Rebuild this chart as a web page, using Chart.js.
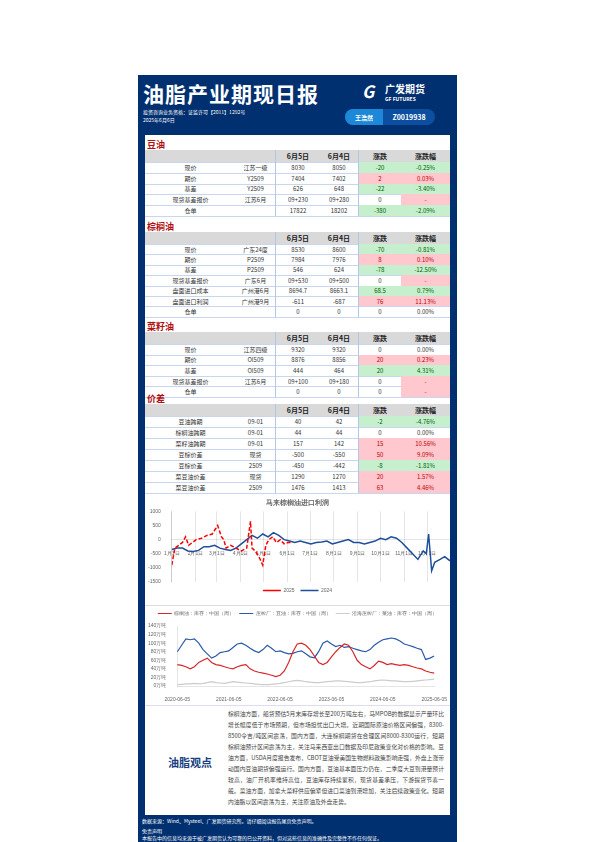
<!DOCTYPE html>
<html><head><meta charset="utf-8">
<script src="https://cdn.jsdelivr.net/npm/chart.js@4"></script>
<style>
body{margin:0;background:#fff;font-family:"Noto Sans CJK SC","Noto Sans",sans-serif;}
#page{position:absolute;left:138px;top:75px;width:319px;height:767px;background:#003070;overflow:hidden}
#white{position:absolute;left:7px;top:60px;width:305px;height:680px;background:#fff}
.abs{position:absolute}
.sec-title{position:absolute;left:2px;font-size:9px;color:#b01010;font-weight:bold}
.row{position:absolute;left:0;width:305px;font-size:6px;color:#333;display:flex;border-bottom:1px solid #c9d6ee}
.row div{display:flex;align-items:center;justify-content:center;box-sizing:border-box}
.hdr{background:#d9d9d9;font-weight:bold;font-size:7px;color:#222}
.g{background:#c6efce;color:#006100}.r{background:#ffc7ce;color:#c00000}
.c0{width:91px}.c1{width:39px}.c2{width:45px;border-left:1px solid #b4c6e7}.c3{width:38px}.c4{width:43px;border-left:1px solid #b4c6e7}.c5{width:49px}
</style></head><body>
<div id="page">
 <div class="abs" style="left:5px;top:3px;font-size:21px;color:#fff;font-weight:bold;font-family:'Noto Sans CJK SC';letter-spacing:1px">油脂产业期现日报</div>
 <div class="abs" style="left:224px;top:6px;color:#fff;font-size:17px;font-weight:bold;font-style:italic;line-height:20px">G</div>
 <div class="abs" style="left:247px;top:8px;color:#fff;font-size:10px;font-weight:bold;line-height:12px">广发期货</div>
 <div class="abs" style="left:247px;top:21px;color:#fff;font-size:5px;font-weight:bold;line-height:6px">GF FUTURES</div>
 <div class="abs" style="left:5px;top:33px;color:#fff;font-size:5px">投资咨询业务资格：证监许可【2011】1292号</div>
 <div class="abs" style="left:5px;top:41px;color:#fff;font-size:5px">2025年6月6日</div>
 <div class="abs" style="left:207px;top:34px;width:90px;height:16px;border-radius:8px;background:#0c4fa0;overflow:hidden;display:flex;font-size:6px;color:#fff;font-weight:bold">
  <div style="width:38px;background:#1e88d8;display:flex;align-items:center;justify-content:center">王浩然</div>
  <div style="flex:1;display:flex;align-items:center;justify-content:center;font-size:7px">Z0019938</div></div>
 <div id="white"></div>
</div>
<div class="abs" style="left:145px;top:497px;width:305px;height:106px"><canvas id="c1"></canvas></div>
<div class="abs" style="left:145px;top:605px;width:305px;height:100px;border-top:1px solid #ddd"><canvas id="c2"></canvas></div>
<script>
// ---- table data ----
const headers=["","","6月5日","6月4日","涨跌","涨跌幅"];
const soyRows=[["现价","江苏一级","8030","8050","-20","-0.25%"],["期价","Y2509","7404","7402","2","0.03%"],["基差","Y2509","626","648","-22","-3.40%"],["现货基差报价","江苏6月","09+230","09+280","0","-"],["仓单","","17822","18202","-380","-2.09%"]];
const palmRows=[["现价","广东24度","8530","8600","-70","-0.81%"],["期价","P2509","7984","7976","8","0.10%"],["基差","P2509","546","624","-78","-12.50%"],["现货基差报价","广东6月","09+530","09+500","0","-"],["盘面进口成本","广州港6月","8694.7","8663.1","68.5","0.79%"],["盘面进口利润","广州港9月","-611","-687","76","11.13%"],["仓单","","0","0","0","0.00%"]];
const rapeRows=[["现价","江苏四级","9320","9320","0","0.00%"],["期价","OI509","8876","8856","20","0.23%"],["基差","OI509","444","464","20","4.31%"],["现货基差报价","江苏6月","09+100","09+180","0","-"],["仓单","","0","0","0","-"]];
const spreadRows=[["豆油跨期","09-01","40","42","-2","-4.76%"],["棕榈油跨期","09-01","44","44","0","0.00%"],["菜籽油跨期","09-01","157","142","15","10.56%"],["豆棕价差","现货","-500","-550","50","9.09%"],["豆棕价差","2509","-450","-442","-8","-1.81%"],["菜豆油价差","现货","1290","1270","20","1.57%"],["菜豆油价差","2509","1476","1413","63","4.46%"]];
const cellColors={soy:["g","r","g","","g"],palm:["g","r","g","","g","r",""],rape:["","r","g","",""],spread:["g","","r","r","g","r","r"]};
const emptyPink={soy:[3],palm:[3],rape:[3,4],spread:[]};
function section(title,rows,key,top,rh){
  const w=document.getElementById('white');let y=top-135;
  const t=document.createElement('div');t.className='sec-title';t.style.top=(y)+'px';t.textContent=title;w.appendChild(t);y+=12;
  const mk=(cells,cls,h,ci)=>{const r=document.createElement('div');r.className='row '+cls;r.style.top=y+'px';r.style.height=h+'px';
    cells.forEach((c,i)=>{const d=document.createElement('div');d.className='c'+i;d.textContent=c;
      if(ci!==undefined&&i>=4){const col=cellColors[key][ci];if(col)d.classList.add(col);
        if(i===5&&emptyPink[key].includes(ci))d.classList.add('r');}
      r.appendChild(d)});w.appendChild(r);y+=h;};
  mk(headers,'hdr',12);rows.forEach((r,i)=>mk(r,'',rh,i));
}
section("豆油",soyRows,"soy",138,10.8);
section("棕榈油",palmRows,"palm",220,10.4);
section("菜籽油",rapeRows,"rape",320,10.6);
section("价差",spreadRows,"spread",392,11);

// ---- chart 1: 马来棕榈油进口利润 ----
const monthTicks=["1月1日","2月1日","3月1日","4月1日","5月1日","6月1日","7月1日","8月1日","9月1日","10月1日","11月1日","12月1日"];
const monthDays=[1,32,60,91,121,152,182,213,244,274,305,335];
const days2024=[1,8,15,22,29,36,43,50,57,64,71,78,85,92,99,106,113,120,127,134,141,148,155,162,169,176,183,190,197,204,211,218,225,232,239,246,253,260,267,274,281,288,295,302,309,316,323,330,334,337,341,345,352,358,365];
const vals2024=[-350,-300,-300,-400,-420,-380,-250,-250,-200,-300,-350,-380,-300,-150,0,150,50,200,100,250,150,0,-50,-100,-50,-100,-150,-100,-80,-50,-150,-100,-50,0,-100,-100,-150,-100,-50,50,0,100,50,-100,-300,-500,-700,-400,-500,200,-1100,-800,-700,-600,-750];
const days2025=[1,5,10,15,19,23,28,33,40,47,54,61,66,69,72,78,85,92,99,104,106,110,115,120,124,128,133,138,143,148,153,157];
const vals2025=[-900,-300,-200,-100,100,-200,-100,0,50,150,200,500,100,0,-300,-200,-300,-400,-300,650,-300,-400,-600,-900,-200,0,100,-100,0,-150,-100,-100];
const d24=days2024.map((d,i)=>({x:d,y:vals2024[i]}));
const d25=days2025.map((d,i)=>({x:d,y:vals2025[i]}));
new Chart(document.getElementById('c1'),{type:'line',data:{datasets:[
 {label:'2025',data:d25,borderColor:'#ff0000',borderDash:[4,2],borderWidth:1.5,pointRadius:0,tension:0},
 {label:'2024',data:d24,borderColor:'#1f4e9a',borderWidth:1.5,pointRadius:0,tension:0}]},
 options:{animation:false,responsive:true,maintainAspectRatio:false,
 plugins:{title:{display:true,text:'马来棕榈油进口利润',color:'#666',font:{size:7},padding:{top:2,bottom:4}},
  legend:{position:'bottom',labels:{boxWidth:18,boxHeight:0,font:{size:5},color:'#666',padding:6}}},
 scales:{x:{type:'linear',min:1,max:365,position:{y:0},afterBuildTicks:a=>{a.ticks=monthDays.map(v=>({value:v}))},
   ticks:{callback:(v)=>monthTicks[monthDays.indexOf(v)],font:{size:5},color:'#666',maxRotation:0,autoSkip:false},grid:{color:'#e5e5e5'}},
  y:{min:-1500,max:1000,ticks:{stepSize:500,callback:v=>String(v),font:{size:5},color:'#666'},grid:{display:false}}}}});

// ---- chart 2: 库存 ----
const months2=[];for(let y=2020;y<=2025;y++)for(let m=1;m<=12;m++){if((y===2020&&m<6)||(y===2025&&m>6))continue;months2.push(y+'-'+String(m).padStart(2,'0')+'-05');}
const palmStock=[50,48,45,40,45,55,60,65,55,50,48,45,42,40,45,48,50,40,35,32,30,28,25,22,25,35,55,80,98,100,95,85,70,55,50,55,68,80,90,98,95,80,60,50,45,40,48,58,55,50,52,50,48,50,48,45,42,40,35,32,30];
const soyStock=[80,95,110,108,110,100,85,75,65,70,78,80,82,90,98,100,95,88,82,78,85,95,88,80,82,78,75,76,80,82,75,68,66,80,100,105,98,92,95,90,92,88,85,82,80,85,95,102,108,110,112,110,105,98,95,92,88,85,62,65,70];
const rapeStock=[3,4,5,5,6,5,6,8,10,8,7,6,8,10,9,8,7,6,5,4,3,3,4,5,6,8,10,12,13,12,10,9,8,8,9,10,11,12,12,11,10,9,8,8,9,10,12,13,14,13,12,12,11,10,10,11,12,13,14,15,16];
new Chart(document.getElementById('c2'),{type:'line',data:{labels:months2,datasets:[
 {label:'棕榈油：库存：中国（周）',data:palmStock,borderColor:'#d62728',borderWidth:1.2,pointRadius:0},
 {label:'压榨厂：豆油：库存：中国（周）',data:soyStock,borderColor:'#2a5aa8',borderWidth:1.2,pointRadius:0},
 {label:'沿海压榨厂：菜油：库存：中国（周）',data:rapeStock,borderColor:'#cccccc',borderWidth:1.2,pointRadius:0}]},
 options:{animation:false,responsive:true,maintainAspectRatio:false,
 plugins:{legend:{position:'top',labels:{boxWidth:14,boxHeight:0,font:{size:5},color:'#666',padding:5}}},
 scales:{x:{ticks:{callback:function(v,i){return i%12===0?this.getLabelForValue(v):null},autoSkip:false,maxRotation:0,font:{size:5},color:'#666'},grid:{display:false}},
  y:{min:0,max:140,ticks:{stepSize:20,autoSkip:false,callback:v=>v+'万吨',font:{size:5},color:'#666'},grid:{display:false}}}}});

// ---- opinion ----
const opinion="棕榈油方面，船货预估5月末库存增长至200万吨左右，马MPOB的数据显示产量环比增长幅度低于市场预期，但市场担忧出口大增。近期国际原油价格区间偏强，8300-8500令吉/吨区间震荡，国内方面，大连棕榈期货在合理区间8000-8300运行，短期棕榈油预计区间震荡为主，关注马来西亚出口数据及印尼政策变化对价格的影响。豆油方面，USDA月度报告发布，CBOT豆油受美国生物燃料政策影响走强，外盘上涨带动国内豆油期货偏强运行。国内方面，豆油基本面压力仍在，二季度大豆到港量预计较高，油厂开机率维持高位，豆油库存持续累积，现货基差承压，下游提货节奏一般。菜油方面，加拿大菜籽供应偏紧但进口菜油到港增加，关注后续政策变化。短期内油脂以区间震荡为主，关注原油及外盘走势。";
const op=document.createElement('div');op.className='abs';
op.style.cssText='left:228px;top:708px;width:216px;font-size:5.8px;line-height:11px;color:#444;text-align:justify';
op.textContent=opinion;document.body.appendChild(op);
</script>
<div class="abs" style="left:145px;top:705px;width:305px;height:1px;background:#dde"></div>
<div class="abs" style="left:168px;top:754px;font-size:11px;font-weight:bold;color:#1a3f80">油脂观点</div>
<div class="abs" style="left:142px;top:817px;font-size:5px;color:#fff">数据来源：Wind、Mysteel、广发期货研究所。请仔细阅读报告尾页免责声明。</div>
<div class="abs" style="left:142px;top:827px;font-size:5px;color:#fff">免责声明</div>
<div class="abs" style="left:142px;top:834px;font-size:5px;color:#fff;white-space:nowrap">本报告中的信息均来源于被广发期货认为可靠的已公开资料，但对这些信息的准确性及完整性不作任何保证。</div>
</body></html>
